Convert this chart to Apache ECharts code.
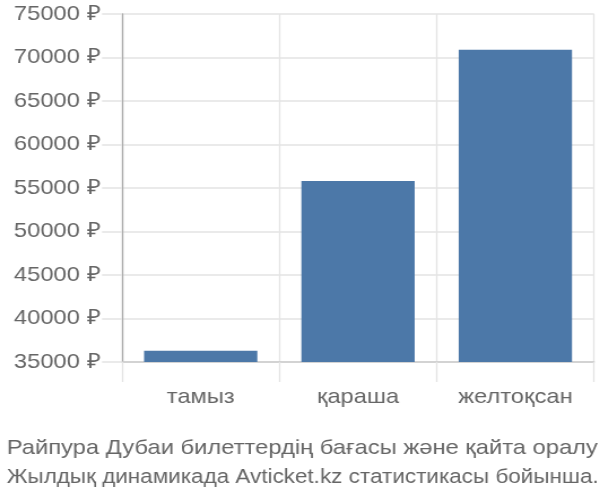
<!DOCTYPE html>
<html>
<head>
<meta charset="utf-8">
<script src="https://cdn.jsdelivr.net/npm/echarts@6/dist/echarts.min.js"></script>
<style>
  html, body { margin: 0; padding: 0; background: #fff; overflow: hidden; }
  /* the reference text is a little wide, so draw narrower and stretch to 600 */
  #chart { width: 531px; height: 500px; transform: scaleX(1.13); transform-origin: 0 0; }
</style>
</head>
<body>
<div id="chart"></div>
<script>
const months = ["тамыз", "қараша", "желтоқсан"];
const prices = [36300, 55800, 70900];
const titleLines = [
  "Райпура Дубаи билеттердің бағасы және қайта оралу",
  "Жылдық динамикада Avticket.kz статистикасы бойынша."
];

const font = "Liberation Sans";
const gridColor = "#e3e3e3";
const titleStyle = (size) => ({
  color: "#666",
  fontSize: size,
  fontWeight: "normal",
  lineHeight: 30,
  fontFamily: font
});

const myChart = echarts.init(document.getElementById("chart"));
myChart.setOption({
  animation: false,
  textStyle: { fontFamily: font },
  title: [
    { text: titleLines[0], left: 1, top: 428, textStyle: titleStyle(21) },
    { text: titleLines[1], left: 1, top: 458, textStyle: titleStyle(19.9) }
  ],
  grid: {
    left: 108,
    right: 5.3,
    top: 14,
    bottom: 138
  },
  xAxis: {
    type: "category",
    data: months,
    axisLine: { show: true, lineStyle: { color: "#ccc", width: 1.5 } },
    axisTick: { show: true, interval: 0, length: 20, lineStyle: { color: gridColor, width: 1.3 } },
    splitLine: { show: true, interval: 0, lineStyle: { color: gridColor, width: 1.3 } },
    axisLabel: { color: "#666", fontSize: 21, margin: 25, interval: 0, fontFamily: font }
  },
  yAxis: {
    type: "value",
    min: 35000,
    max: 75000,
    interval: 5000,
    axisLine: { show: true, lineStyle: { color: "#aaa", width: 1.3 } },
    axisTick: { show: true, length: 17.7, lineStyle: { color: gridColor, width: 1.5 } },
    splitLine: { show: true, lineStyle: { color: gridColor, width: 1.5 } },
    axisLabel: {
      color: "#666",
      fontSize: 21,
      margin: 19.5,
      fontFamily: font,
      formatter: (v) => v + " ₽"
    }
  },
  series: [
    {
      type: "bar",
      data: prices,
      barWidth: "72%",
      itemStyle: { color: "#4c78a8" }
    }
  ]
});
</script>
</body>
</html>
